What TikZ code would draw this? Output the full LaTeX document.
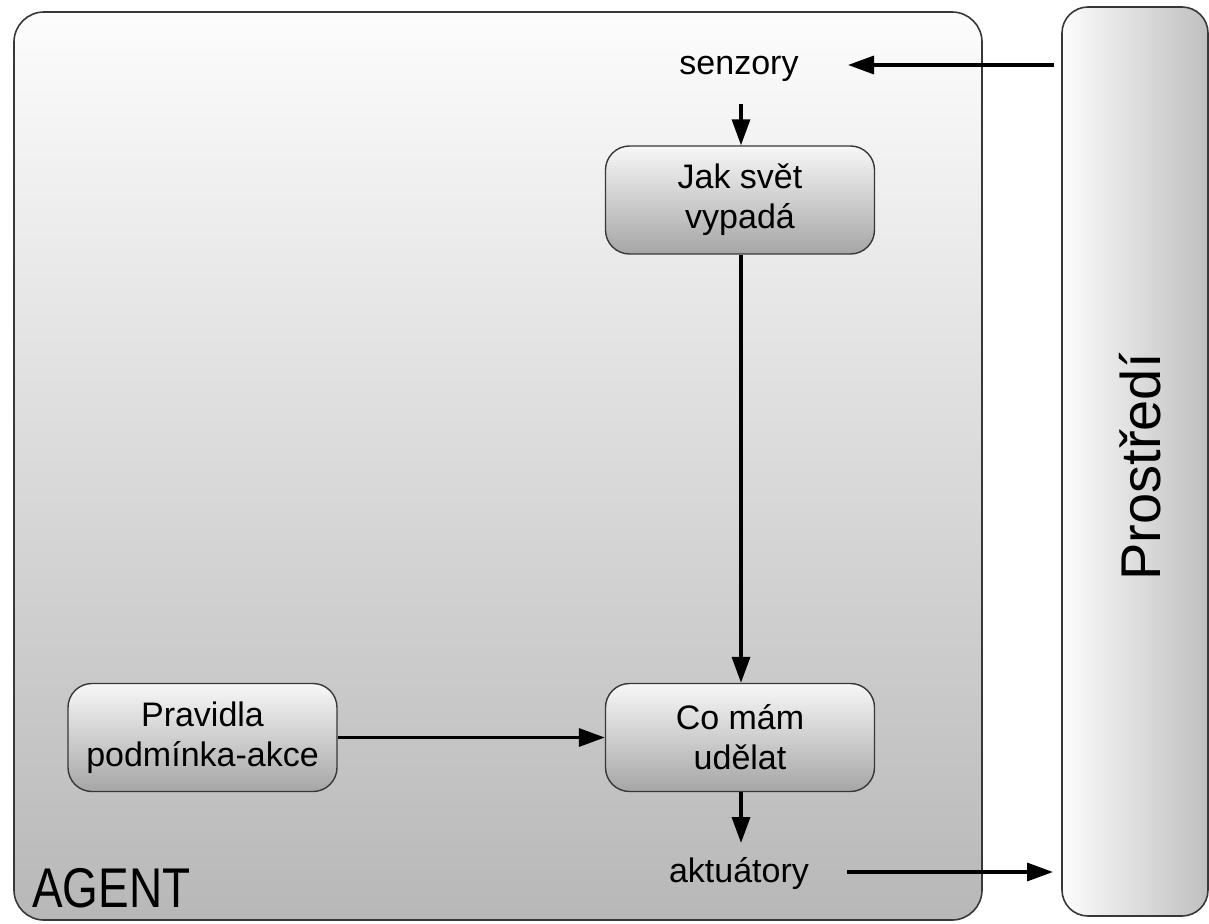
\documentclass[tikz,border=0pt]{standalone}
\usepackage{fontspec}
\setmainfont{Liberation Sans}
\usetikzlibrary{arrows.meta}
\definecolor{edge}{HTML}{383838}
\tikzset{
  frame/.style={draw=edge, line width=1.6pt, rounded corners=30pt},
  stepbox/.style={draw=edge, line width=1.4pt, rounded corners=24pt,
    top color=black!3, bottom color=black!35,
    minimum width=269pt, minimum height=108pt, inner sep=0pt,
    align=center, font=\fontsize{34}{40}\selectfont},
  label/.style={font=\fontsize{34}{40}\selectfont, anchor=base, inner sep=0pt},
  flow/.style={line width=3.4pt, -{Triangle[length=26pt,width=18pt]}}
}
\begin{document}
\begin{tikzpicture}[x=1pt, y=-1pt]
\useasboundingbox (0,0) rectangle (1209,923);

% agent frame and environment bar
\node[frame, top color=black!1, bottom color=black!28,
      minimum width=968pt, minimum height=908pt] (agent) at (498,466) {};
\node[frame, rounded corners=26pt, left color=black!1, right color=black!25,
      minimum width=146pt, minimum height=909pt] (env) at (1135,461.5) {};

% labels
\node[anchor=base west, inner sep=0pt, font=\fontsize{56}{60}\selectfont, xscale=0.82] (agentlbl) at (32,907) {AGENT};
\node[rotate=90, anchor=base, inner sep=0pt, font=\fontsize{56}{60}\selectfont] (envlbl) at (1160,467) {Prostředí};
\node[label] (sens) at (739,75) {senzory};
\node[label] (act) at (739,882) {aktuátory};

% processing steps
\node[stepbox] (jak) at (740,200) {Jak svět\\vypadá};
\node[stepbox] (co) at (740,737.5) {Co mám\\udělat};
\node[stepbox] (rules) at (202.5,737.5) {Pravidla\\podmínka-akce};

% free ends of the connectors
\coordinate (sensin) at (1054,65);
\coordinate (sensend) at (848,65);
\coordinate (sensout) at (741,104);
\coordinate (actin) at (741,843);
\coordinate (actout) at (847,872);
\coordinate (actend) at (1053,872);

% connectors
\draw[flow] (sensin) -- (sensend);
\draw[flow] (sensout) -- (jak.north -| sensout);
\draw[flow] (jak.south -| sensout) -- (co.north -| sensout);
\draw[flow] (rules.east) -- (co.west);
\draw[flow] (co.south -| actin) -- (actin);
\draw[flow] (actout) -- (actend);
\end{tikzpicture}
\end{document}
